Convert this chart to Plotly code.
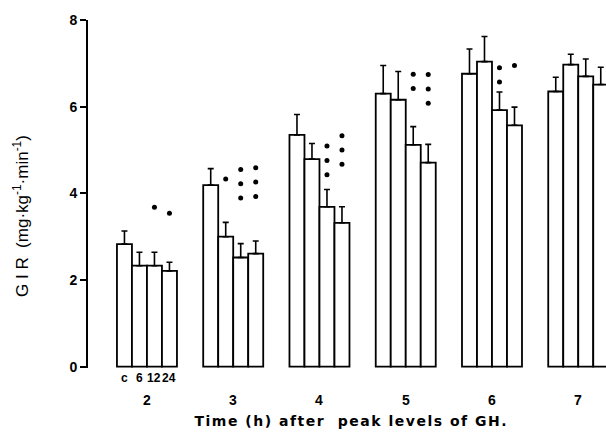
import plotly.graph_objects as go

groups = ["2", "3", "4", "5", "6", "7"]
sub_labels = ["c", "6", "12", "24"]
means = [
    [2.83, 2.33, 2.33, 2.21],
    [4.19, 3.00, 2.52, 2.61],
    [5.35, 4.79, 3.69, 3.32],
    [6.30, 6.16, 5.12, 4.71],
    [6.76, 7.04, 5.92, 5.57],
    [6.35, 6.97, 6.70, 6.51],
]
sem = [
    [0.30, 0.31, 0.31, 0.20],
    [0.38, 0.33, 0.32, 0.29],
    [0.47, 0.36, 0.40, 0.37],
    [0.65, 0.65, 0.42, 0.42],
    [0.57, 0.58, 0.42, 0.42],
    [0.33, 0.24, 0.40, 0.40],
]
sig_count = [
    [0, 0, 1, 1],
    [0, 1, 3, 3],
    [0, 0, 3, 3],
    [0, 0, 2, 3],
    [0, 0, 2, 1],
    [0, 0, 0, 0],
]
sig_top = [
    [0, 0, 3.68, 3.54],
    [0, 4.33, 4.55, 4.59],
    [0, 0, 5.09, 5.33],
    [0, 0, 6.75, 6.74],
    [0, 0, 6.90, 6.95],
    [0, 0, 0, 0],
]
sig_step = 0.33

group_gap = 5.75
offsets = [-1.5, -0.5, 0.5, 1.5]

xs, ys, es = [], [], []
dx, dy = [], []
for g in range(len(groups)):
    for b in range(4):
        x = g * group_gap + offsets[b]
        xs.append(x)
        ys.append(means[g][b])
        es.append(sem[g][b])
        for k in range(sig_count[g][b]):
            dx.append(x)
            dy.append(sig_top[g][b] - k * sig_step)

fig = go.Figure()
fig.add_trace(go.Bar(
    x=xs, y=ys, width=1.0,
    marker=dict(color="white", line=dict(color="black", width=1.8)),
    error_y=dict(type="data", array=es, arrayminus=[0] * len(es), symmetric=False,
                 color="black", thickness=1.6, width=3),
    showlegend=False,
))
fig.add_trace(go.Scatter(
    x=dx, y=dy, mode="markers",
    marker=dict(color="black", size=5),
    showlegend=False, cliponaxis=False,
))

annotations = []
for g, lab in enumerate(groups):
    annotations.append(dict(x=g * group_gap, y=0, xref="x", yref="paper", text=lab,
                            showarrow=False, yanchor="middle", yshift=-32,
                            font=dict(family="Liberation Sans", size=14, color="black", weight="bold")))
for b, lab in enumerate(sub_labels):
    annotations.append(dict(x=offsets[b], y=0, xref="x", yref="paper", text=lab,
                            showarrow=False, yanchor="middle", yshift=-10,
                            font=dict(family="Liberation Sans", size=12, color="black", weight="bold")))
annotations.append(dict(x=(351 - 88) / 518, y=0, xref="paper", yref="paper",
                        text="Time (h) after  peak levels of GH.",
                        showarrow=False, yanchor="middle", yshift=-53,
                        font=dict(family="DejaVu Sans", size=14, color="black", weight="bold")))
annotations.append(dict(x=(21 - 88) / 518, y=(368 - 216) / 348, xref="paper", yref="paper",
                        text="G I R  (mg·kg<sup>-1</sup>·min<sup>-1</sup>)", textangle=-90,
                        showarrow=False, xanchor="center", yanchor="middle",
                        font=dict(family="Liberation Sans", size=17, color="black")))

fig.update_layout(
    width=606, height=439,
    margin=dict(l=88, r=0, t=20, b=71),
    paper_bgcolor="white", plot_bgcolor="white",
    barmode="overlay",
    annotations=annotations,
    xaxis=dict(range=[-3.93, 30.6], showticklabels=False, ticks="", showgrid=False,
               zeroline=False, showline=False),
    yaxis=dict(range=[-0.03, 8.0], tickvals=[0, 2, 4, 6, 8], ticks="outside", ticklen=6,
               tickwidth=1.5, tickcolor="black", showline=True, linecolor="black", linewidth=1.8,
               showgrid=False, zeroline=False,
               tickfont=dict(family="Liberation Sans", size=14, color="black", weight="bold")),
)

post = """
document.body.style.margin='0';
document.body.style.padding='0';
document.querySelectorAll('text.annotation-text').forEach(function(t){
  if (t.textContent.indexOf('Time') === 0) { t.setAttribute('letter-spacing', '1.5px'); }
});
"""
fig.write_html("out.html", config={"displayModeBar": False}, post_script=post)
